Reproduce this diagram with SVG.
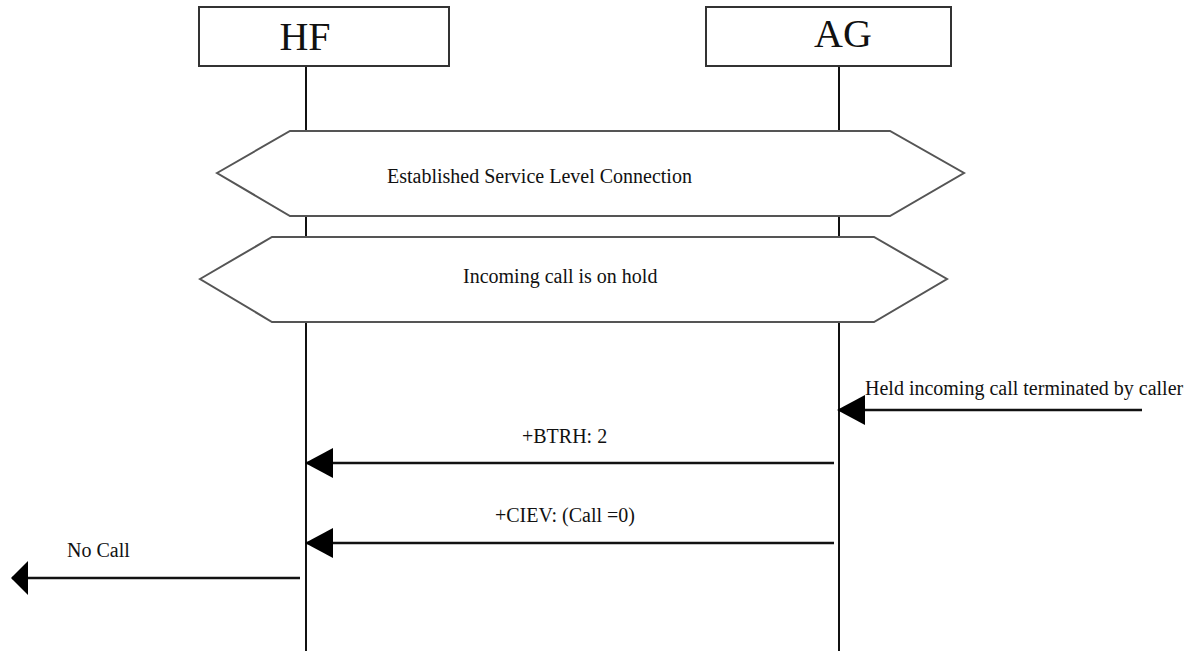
<svg xmlns="http://www.w3.org/2000/svg" width="1195" height="651" viewBox="0 0 1195 651">
<style>
.box{fill:#fff;stroke:#333;stroke-width:2}
.hdr{font-family:"Liberation Serif",serif;font-size:40px;fill:#111}
.lbl{font-family:"Liberation Serif",serif;font-size:20px;fill:#111}
.life{stroke:#111;stroke-width:2}
.hex{fill:#fff;stroke:#555;stroke-width:2}
.msg{stroke:#111;stroke-width:2.5;fill:none}
</style>
<defs>
<marker id="ah" markerUnits="userSpaceOnUse" markerWidth="28" markerHeight="30" viewBox="0 0 28 30" refX="27" refY="15" orient="auto"><path d="M0,0 L28,15 L0,30 Z" fill="#000"/></marker>
<marker id="ah2" markerUnits="userSpaceOnUse" markerWidth="17" markerHeight="34" viewBox="0 0 17 34" refX="16" refY="17" orient="auto"><path d="M0,0 L17,17 L0,34 Z" fill="#000"/></marker>
</defs>
<g id="lifelines">
<line class="life" x1="306" y1="66" x2="306" y2="651"/>
<line class="life" x1="839" y1="66" x2="839" y2="651"/>
</g>
<g id="HF">
<rect class="box" x="199" y="7" width="250" height="59"/>
<text class="hdr" x="305" y="50" text-anchor="middle">HF</text>
</g>
<g id="AG">
<rect class="box" x="706" y="7" width="245" height="59"/>
<text class="hdr" x="843" y="47" text-anchor="middle">AG</text>
</g>
<g id="slc">
<polygon class="hex" points="217,173 290,131 890,131 964,173 890,216 290,216"/>
<text class="lbl" x="387" y="183">Established Service Level Connection</text>
</g>
<g id="hold">
<polygon class="hex" points="200,279 272,237 874,237 947,279 874,322 272,322"/>
<text class="lbl" x="463" y="283">Incoming call is on hold</text>
</g>
<g id="connectors">
<line class="msg" x1="1142" y1="410" x2="838" y2="410" marker-end="url(#ah)"/>
<line class="msg" x1="834" y1="463" x2="306" y2="463" marker-end="url(#ah)"/>
<line class="msg" x1="834" y1="543" x2="306" y2="543" marker-end="url(#ah)"/>
<line class="msg" x1="300" y1="578" x2="12" y2="578" marker-end="url(#ah2)"/>
</g>
<g id="labels">
<text class="lbl" x="865" y="395">Held incoming call terminated by caller</text>
<text class="lbl" x="522" y="443">+BTRH: 2</text>
<text class="lbl" x="495" y="522">+CIEV: (Call =0)</text>
<text class="lbl" x="67" y="557">No Call</text>
</g>
</svg>
